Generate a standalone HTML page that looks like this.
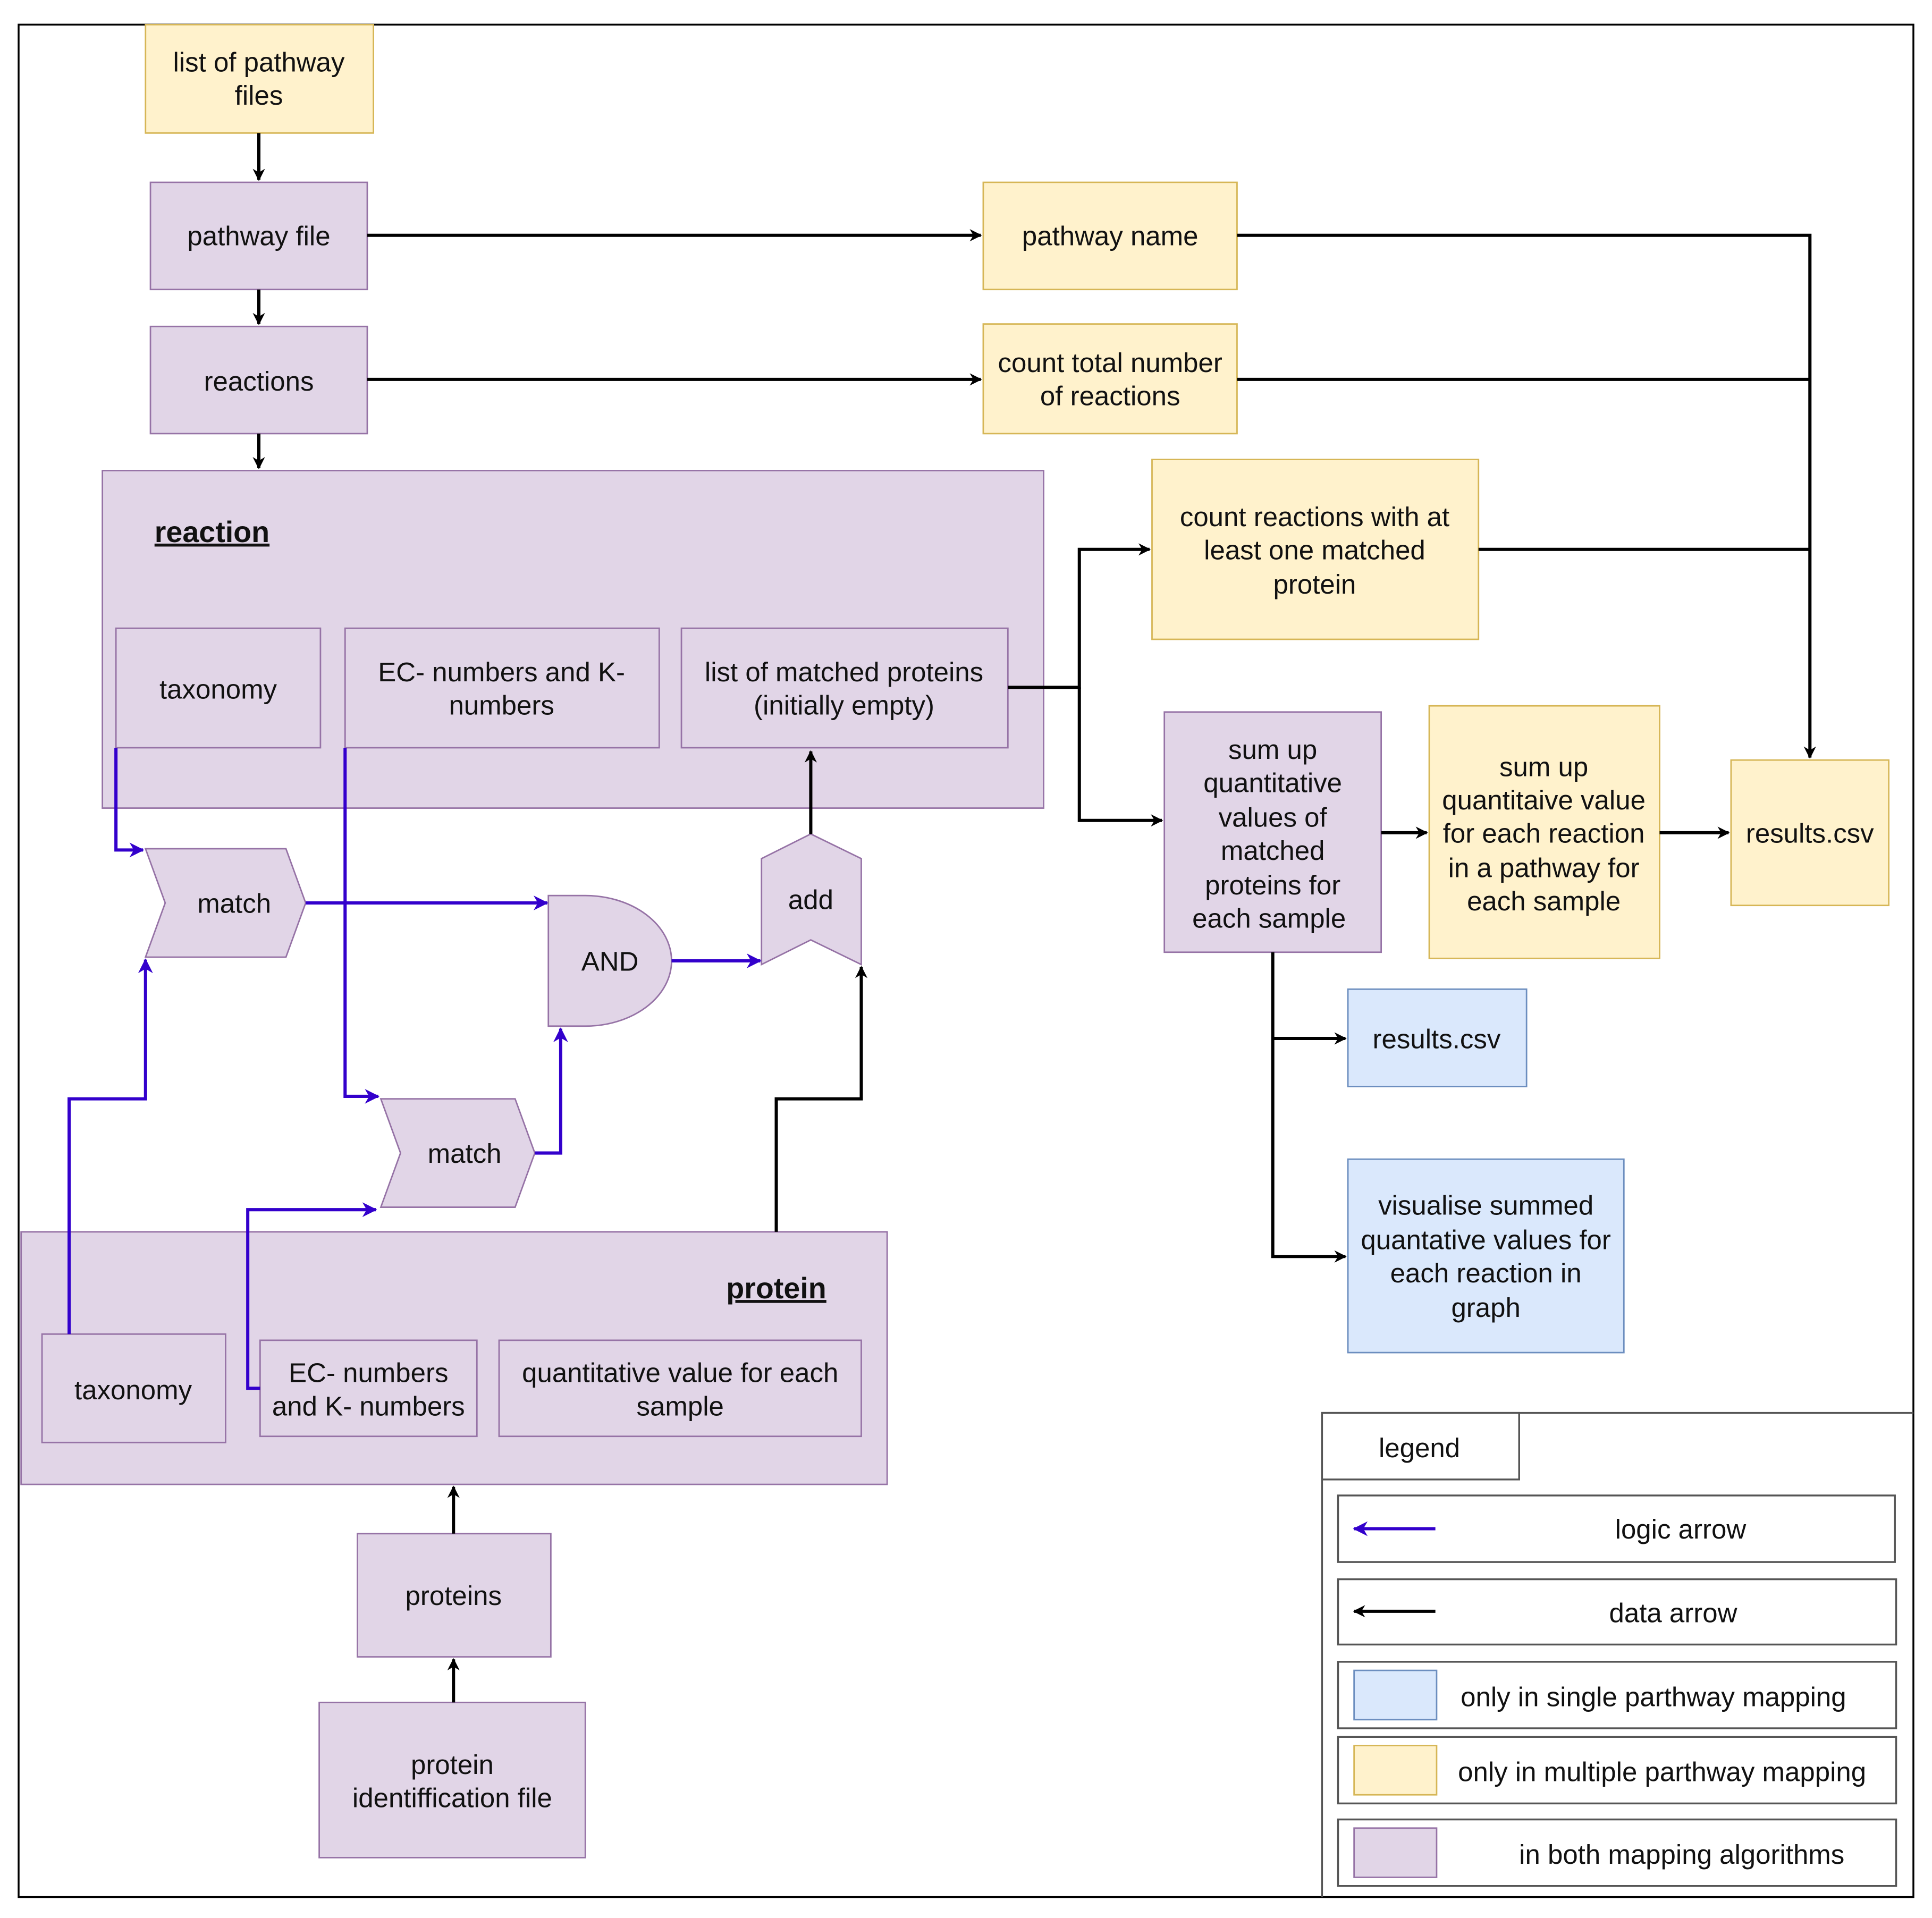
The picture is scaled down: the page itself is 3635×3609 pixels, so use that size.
<!DOCTYPE html>
<html><head><meta charset="utf-8"><style>
html,body{margin:0;padding:0;background:#fff;}
svg{display:block;}
text{font-family:"Liberation Sans",Arial,sans-serif;font-size:22px;fill:#111;text-anchor:middle;}
.p{fill:#e1d5e7;stroke:#9673a6;stroke-width:1.2}
.y{fill:#fff2cc;stroke:#d6b656;stroke-width:1.2}
.b{fill:#dae8fc;stroke:#6c8ebf;stroke-width:1.2}
.k{fill:none;stroke:#000;stroke-width:2.6}
.l{fill:none;stroke:#3300cc;stroke-width:2.6}
.g{fill:#fff;stroke:#555;stroke-width:1.5}
</style></head><body>
<svg width="3635" height="3609" viewBox="0 0 1568 1557" xmlns="http://www.w3.org/2000/svg">
<defs>
<marker id="ak" markerWidth="10" markerHeight="10" refX="9" refY="5" orient="auto" markerUnits="userSpaceOnUse"><path d="M0,0 L10,5 L0,10 L3,5z" fill="#000"/></marker>
<marker id="al" markerWidth="12" markerHeight="12" refX="11" refY="6" orient="auto" markerUnits="userSpaceOnUse"><path d="M0,0 L12,6 L0,12 L3.5,6z" fill="#3300cc"/></marker>
</defs>
<rect x="15" y="20" width="1538" height="1520" fill="#fff" stroke="#000" stroke-width="1.5"/>

<!-- containers -->
<rect class="p" x="83" y="382" width="764" height="274"/>
<text x="172" y="440" style="font-weight:bold;text-decoration:underline;font-size:24px">reaction</text>
<rect class="p" x="17" y="1000" width="703" height="205"/>
<text x="630" y="1054" style="font-weight:bold;text-decoration:underline;font-size:24px">protein</text>

<!-- nodes -->
<rect class="y" x="118" y="20" width="185" height="88"/>
<text x="210" y="58">list of pathway</text><text x="210" y="85">files</text>
<rect class="p" x="122" y="148" width="176" height="87"/><text x="210" y="199">pathway file</text>
<rect class="p" x="122" y="265" width="176" height="87"/><text x="210" y="317">reactions</text>
<rect class="p" x="94" y="510" width="166" height="97"/><text x="177" y="567">taxonomy</text>
<rect class="p" x="280" y="510" width="255" height="97"/><text x="407" y="553">EC- numbers and K-</text><text x="407" y="580">numbers</text>
<rect class="p" x="553" y="510" width="265" height="97"/><text x="685" y="553">list of matched proteins</text><text x="685" y="580">(initially empty)</text>

<rect class="y" x="798" y="148" width="206" height="87"/><text x="901" y="199">pathway name</text>
<rect class="y" x="798" y="263" width="206" height="89"/><text x="901" y="302">count total number</text><text x="901" y="329">of reactions</text>
<rect class="y" x="935" y="373" width="265" height="146"/><text x="1067" y="427">count reactions with at</text><text x="1067" y="454">least one matched</text><text x="1067" y="482">protein</text>
<rect class="p" x="945" y="578" width="176" height="195"/>
<text x="1033" y="616">sum up</text><text x="1033" y="643">quantitative</text><text x="1033" y="671">values of</text><text x="1033" y="698">matched</text><text x="1033" y="726">proteins for</text><text x="1030" y="753">each sample</text>
<rect class="y" x="1160" y="573" width="187" height="205"/>
<text x="1253" y="630">sum up</text><text x="1253" y="657">quantitaive value</text><text x="1253" y="684">for each reaction</text><text x="1253" y="712">in a pathway for</text><text x="1253" y="739">each sample</text>
<rect class="y" x="1405" y="617" width="128" height="118"/><text x="1469" y="684">results.csv</text>
<rect class="b" x="1094" y="803" width="145" height="79"/><text x="1166" y="851">results.csv</text>
<rect class="b" x="1094" y="941" width="224" height="157"/>
<text x="1206" y="986">visualise summed</text><text x="1206" y="1014">quantative values for</text><text x="1206" y="1041">each reaction in</text><text x="1206" y="1069">graph</text>

<polygon class="p" points="118,689 232,689 248,733 232,777 118,777 134,733"/><text x="190" y="741">match</text>
<polygon class="p" points="309,892 418,892 434,936 418,980 309,980 325,936"/><text x="377" y="944">match</text>
<path class="p" d="M445,727 L475,727 A70,53 0 0 1 475,833 L445,833 Z"/><text x="495" y="788">AND</text>
<polygon class="p" points="618,697 658,677 699,697 699,783 658,763 618,783"/><text x="658" y="738">add</text>

<rect class="p" x="34" y="1083" width="149" height="88"/><text x="108" y="1136">taxonomy</text>
<rect class="p" x="211" y="1088" width="176" height="78"/><text x="299" y="1122">EC- numbers</text><text x="299" y="1149">and K- numbers</text>
<rect class="p" x="405" y="1088" width="294" height="78"/><text x="552" y="1122">quantitative value for each</text><text x="552" y="1149">sample</text>
<rect class="p" x="290" y="1245" width="157" height="100"/><text x="368" y="1303">proteins</text>
<rect class="p" x="259" y="1382" width="216" height="126"/><text x="367" y="1440">protein</text><text x="367" y="1467">identiffication file</text>

<!-- data arrows -->
<path class="k" marker-end="url(#ak)" d="M210,108 V146"/>
<path class="k" marker-end="url(#ak)" d="M210,235 V263"/>
<path class="k" marker-end="url(#ak)" d="M210,352 V380"/>
<path class="k" marker-end="url(#ak)" d="M298,191 H796"/>
<path class="k" marker-end="url(#ak)" d="M298,308 H796"/>
<path class="k" marker-end="url(#ak)" d="M1004,191 H1469 V615"/>
<path class="k" d="M1004,308 H1469"/>
<path class="k" d="M1200,446 H1469"/>
<path class="k" marker-end="url(#ak)" d="M818,558 H876 V446 H933"/>
<path class="k" marker-end="url(#ak)" d="M876,558 V666 H943"/>
<path class="k" marker-end="url(#ak)" d="M1121,676 H1158"/>
<path class="k" marker-end="url(#ak)" d="M1347,676 H1403"/>
<path class="k" marker-end="url(#ak)" d="M1033,773 V1020 H1092"/>
<path class="k" marker-end="url(#ak)" d="M1033,843 H1092"/>
<path class="k" marker-end="url(#ak)" d="M658,677 V610"/>
<path class="k" marker-end="url(#ak)" d="M630,1000 V892 H699 V785"/>
<path class="k" marker-end="url(#ak)" d="M368,1245 V1207"/>
<path class="k" marker-end="url(#ak)" d="M368,1382 V1347"/>

<!-- logic arrows -->
<path class="l" marker-end="url(#al)" d="M94,607 V690 H116"/>
<path class="l" marker-end="url(#al)" d="M248,733 H444"/>
<path class="l" marker-end="url(#al)" d="M545,780 H617"/>
<path class="l" marker-end="url(#al)" d="M280,607 V890 H307"/>
<path class="l" marker-end="url(#al)" d="M434,936 H455 V835"/>
<path class="l" marker-end="url(#al)" d="M56,1083 V892 H118 V779"/>
<path class="l" marker-end="url(#al)" d="M211,1127 H201 V982 H305"/>

<!-- legend -->
<path d="M1073,1540 V1147 H1553" fill="none" stroke="#555" stroke-width="1.5"/>
<rect class="g" x="1073" y="1147" width="160" height="54"/><text x="1152" y="1183">legend</text>
<rect class="g" x="1086" y="1214" width="452" height="54"/>
<path class="l" marker-end="url(#al)" d="M1165,1241 H1099"/><text x="1364" y="1249">logic arrow</text>
<rect class="g" x="1086" y="1282" width="453" height="53"/>
<path class="k" marker-end="url(#ak)" d="M1165,1308 H1099"/><text x="1358" y="1317">data arrow</text>
<rect class="g" x="1086" y="1349" width="453" height="54"/>
<rect class="b" x="1099" y="1356" width="67" height="40"/><text x="1342" y="1385">only in single parthway mapping</text>
<rect class="g" x="1086" y="1410" width="453" height="54"/>
<rect class="y" x="1099" y="1417" width="67" height="40"/><text x="1349" y="1446">only in multiple parthway mapping</text>
<rect class="g" x="1086" y="1477" width="453" height="54"/>
<rect class="p" x="1099" y="1484" width="67" height="40"/><text x="1365" y="1513">in both mapping algorithms</text>
</svg>
</body></html>
